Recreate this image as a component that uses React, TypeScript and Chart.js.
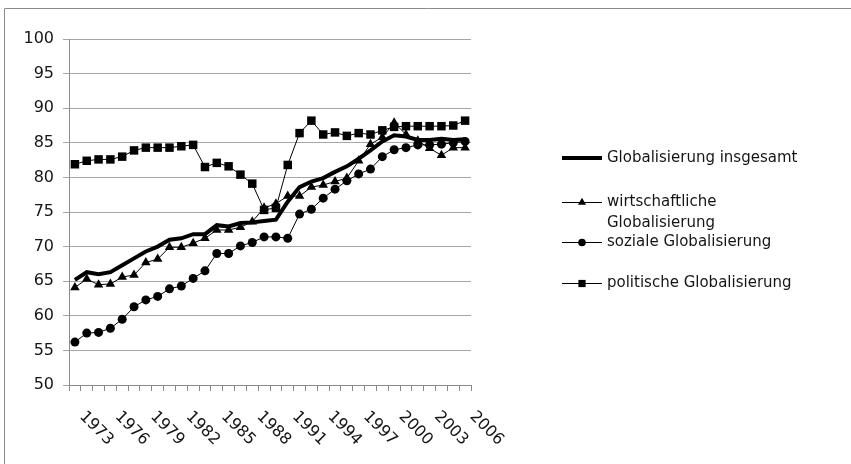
import { useEffect, useRef } from "react";
import { Chart, registerables } from "chart.js";

Chart.register(...registerables);

// Jahre 1973–2006
const years = [
  "1973", "1974", "1975", "1976", "1977", "1978", "1979", "1980", "1981", "1982",
  "1983", "1984", "1985", "1986", "1987", "1988", "1989", "1990", "1991", "1992",
  "1993", "1994", "1995", "1996", "1997", "1998", "1999", "2000", "2001", "2002",
  "2003", "2004", "2005", "2006",
];

// only every third year carries a label on the x axis
const xTickLabels = ["1973", "1976", "1979", "1982", "1985", "1988", "1991", "1994", "1997", "2000", "2003", "2006"];

const yMin = 50;
const yMax = 100;
const yStep = 5;

const gesamt = [
  65.2, 66.3, 66.0, 66.3, 67.3, 68.3, 69.3, 70.0, 71.0, 71.2,
  71.8, 71.8, 73.1, 72.9, 73.4, 73.5, 73.7, 73.9, 76.5, 78.6,
  79.4, 79.9, 80.8, 81.6, 82.7, 83.9, 85.2, 86.1, 85.9, 85.4,
  85.4, 85.6, 85.4, 85.5,
];

const wirtschaftlich = [
  64.1, 65.3, 64.5, 64.6, 65.6, 65.9, 67.7, 68.2, 69.9, 69.9,
  70.5, 71.2, 72.4, 72.4, 72.8, 73.6, 75.6, 76.2, 77.3, 77.3,
  78.6, 78.9, 79.4, 79.9, 82.4, 84.8, 85.8, 87.9, 86.2, 85.3,
  84.2, 83.2, 84.3, 84.3,
];

const sozial = [
  56.2, 57.5, 57.6, 58.2, 59.5, 61.3, 62.3, 62.8, 63.9, 64.3,
  65.4, 66.5, 69.0, 69.0, 70.1, 70.6, 71.4, 71.4, 71.2, 74.7,
  75.4, 77.0, 78.3, 79.5, 80.5, 81.2, 83.0, 84.0, 84.3, 84.7,
  84.7, 84.8, 85.0, 85.2,
];

const politisch = [
  81.9, 82.4, 82.6, 82.6, 83.0, 83.9, 84.3, 84.3, 84.3, 84.5,
  84.7, 81.5, 82.1, 81.6, 80.4, 79.1, 75.3, 75.6, 81.8, 86.4,
  88.2, 86.2, 86.5, 86.0, 86.4, 86.2, 86.8, 87.3, 87.4, 87.4,
  87.4, 87.4, 87.5, 88.2,
];

// legend text, one array of lines per series
const legendTexts = [
  ["Globalisierung insgesamt"],
  ["wirtschaftliche", "Globalisierung"],
  ["soziale Globalisierung"],
  ["politische Globalisierung"],
];

const FONT = '"DejaVu Sans", sans-serif';
const TEXT = "#151515";
const AXIS = "#8a8a8a";
const GRID = "#a6a6a6";

// outer frame (white background, thin top/left border)
const framePlugin = {
  id: "frame",
  beforeDraw(chart: any) {
    const { ctx, width, height } = chart;
    ctx.save();
    ctx.fillStyle = "#ffffff";
    ctx.fillRect(0, 0, width, height);
    ctx.strokeStyle = AXIS;
    ctx.lineWidth = 1;
    ctx.beginPath();
    ctx.moveTo(4.5, height);
    ctx.lineTo(4.5, 8.5);
    ctx.lineTo(width, 8.5);
    ctx.stroke();
    ctx.restore();
  },
};

// year labels, turned 45° clockwise below the category axis
const yearLabelPlugin = {
  id: "yearLabels",
  afterDraw(chart: any) {
    const { ctx } = chart;
    const xs = chart.scales.x;
    ctx.save();
    ctx.font = `16px ${FONT}`;
    ctx.fillStyle = TEXT;
    ctx.textAlign = "left";
    ctx.textBaseline = "middle";
    years.forEach((yr, i) => {
      if (!xTickLabels.includes(yr)) return;
      const px = xs.getPixelForValue(i);
      ctx.save();
      ctx.translate(px + 7, xs.top + 29);
      ctx.rotate(Math.PI / 4);
      ctx.fillText(yr, 0, 0);
      ctx.restore();
    });
    ctx.restore();
  },
};

function drawMarker(ctx: CanvasRenderingContext2D, style: string, r: number, x: number, y: number) {
  ctx.beginPath();
  if (style === "triangle") {
    let rad = 0;
    ctx.moveTo(x + Math.sin(rad) * r, y - Math.cos(rad) * r);
    rad += (2 * Math.PI) / 3;
    ctx.lineTo(x + Math.sin(rad) * r, y - Math.cos(rad) * r);
    rad += (2 * Math.PI) / 3;
    ctx.lineTo(x + Math.sin(rad) * r, y - Math.cos(rad) * r);
    ctx.closePath();
  } else if (style === "circle") {
    ctx.arc(x, y, r, 0, Math.PI * 2);
  } else if (style === "rect") {
    const s = r * Math.SQRT1_2;
    ctx.rect(x - s, y - s, 2 * s, 2 * s);
  } else {
    return;
  }
  ctx.fill();
}

// legend at the right, drawn from the datasets' own styles
const legendRows = [158, 202, 242, 283];
const legendPlugin = {
  id: "sideLegend",
  afterDraw(chart: any) {
    const { ctx } = chart;
    const x0 = chart.chartArea.right + 91;
    const lineLen = 40;
    ctx.save();
    ctx.font = `15px ${FONT}`;
    ctx.textAlign = "left";
    ctx.textBaseline = "middle";
    chart.data.datasets.forEach((ds: any, i: number) => {
      const y = legendRows[i];
      const ly = ds.borderWidth % 2 === 1 ? y + 0.5 : y;
      ctx.strokeStyle = ds.borderColor;
      ctx.lineWidth = ds.borderWidth;
      ctx.beginPath();
      ctx.moveTo(x0, ly);
      ctx.lineTo(x0 + lineLen, ly);
      ctx.stroke();
      if (ds.pointRadius > 0) {
        ctx.fillStyle = ds.pointBackgroundColor;
        drawMarker(ctx, ds.pointStyle, ds.pointRadius * 0.85, x0 + lineLen / 2, ly);
      }
      ctx.fillStyle = TEXT;
      legendTexts[i].forEach((t, k) => {
        ctx.fillText(t, x0 + lineLen + 5, y + k * 21);
      });
    });
    ctx.restore();
  },
};

export default function App() {
  const canvasRef = useRef<HTMLCanvasElement>(null);

  useEffect(() => {
    const canvas = canvasRef.current;
    if (!canvas) return;
    const chart = new Chart(canvas, {
      type: "line",
      data: {
        labels: years,
        datasets: [
          {
            label: legendTexts[0].join(" "),
            data: gesamt,
            borderColor: "#000000",
            backgroundColor: "#000000",
            borderWidth: 4,
            pointRadius: 0,
            pointStyle: "circle",
            order: 3,
          },
          {
            label: legendTexts[1].join(" "),
            data: wirtschaftlich,
            borderColor: "#000000",
            backgroundColor: "#000000",
            pointBackgroundColor: "#000000",
            pointBorderColor: "#000000",
            borderWidth: 1,
            pointRadius: 5.5,
            pointBorderWidth: 0,
            pointStyle: "triangle",
            order: 2,
          },
          {
            label: legendTexts[2].join(" "),
            data: sozial,
            borderColor: "#000000",
            backgroundColor: "#000000",
            pointBackgroundColor: "#000000",
            pointBorderColor: "#000000",
            borderWidth: 1,
            pointRadius: 4.5,
            pointBorderWidth: 0,
            pointStyle: "circle",
            order: 1,
          },
          {
            label: legendTexts[3].join(" "),
            data: politisch,
            borderColor: "#000000",
            backgroundColor: "#000000",
            pointBackgroundColor: "#000000",
            pointBorderColor: "#000000",
            borderWidth: 1,
            pointRadius: 6,
            pointBorderWidth: 0,
            pointStyle: "rect",
            order: 0,
          },
        ],
      },
      options: {
        responsive: false,
        animation: false,
        devicePixelRatio: 1,
        layout: { padding: { top: 39, right: 380, left: 0, bottom: 0 } },
        elements: { line: { tension: 0 } },
        plugins: {
          legend: { display: false },
          tooltip: { enabled: false },
          title: { display: false },
        },
        scales: {
          x: {
            type: "category",
            offset: true,
            grid: {
              offset: true,
              drawOnChartArea: false,
              drawTicks: true,
              tickLength: 6,
              color: AXIS,
            },
            border: { display: true, color: AXIS, width: 1 },
            ticks: { display: false, autoSkip: false },
            afterFit(scale: any) {
              scale.height = 79;
            },
          },
          y: {
            min: yMin,
            max: yMax,
            ticks: {
              stepSize: yStep,
              color: TEXT,
              font: { family: FONT, size: 16 },
              padding: 9,
            },
            grid: {
              color: GRID,
              drawTicks: true,
              tickLength: 6,
            },
            border: { display: true, color: AXIS, width: 1 },
            afterFit(scale: any) {
              scale.width = 69;
            },
          },
        },
      },
      plugins: [framePlugin, yearLabelPlugin, legendPlugin],
    });
    return () => chart.destroy();
  }, []);

  return (
    <div style={{ position: "fixed", left: 0, top: 0, width: 851, height: 464, background: "#ffffff" }}>
      <canvas ref={canvasRef} width={851} height={464} style={{ display: "block" }} />
    </div>
  );
}
